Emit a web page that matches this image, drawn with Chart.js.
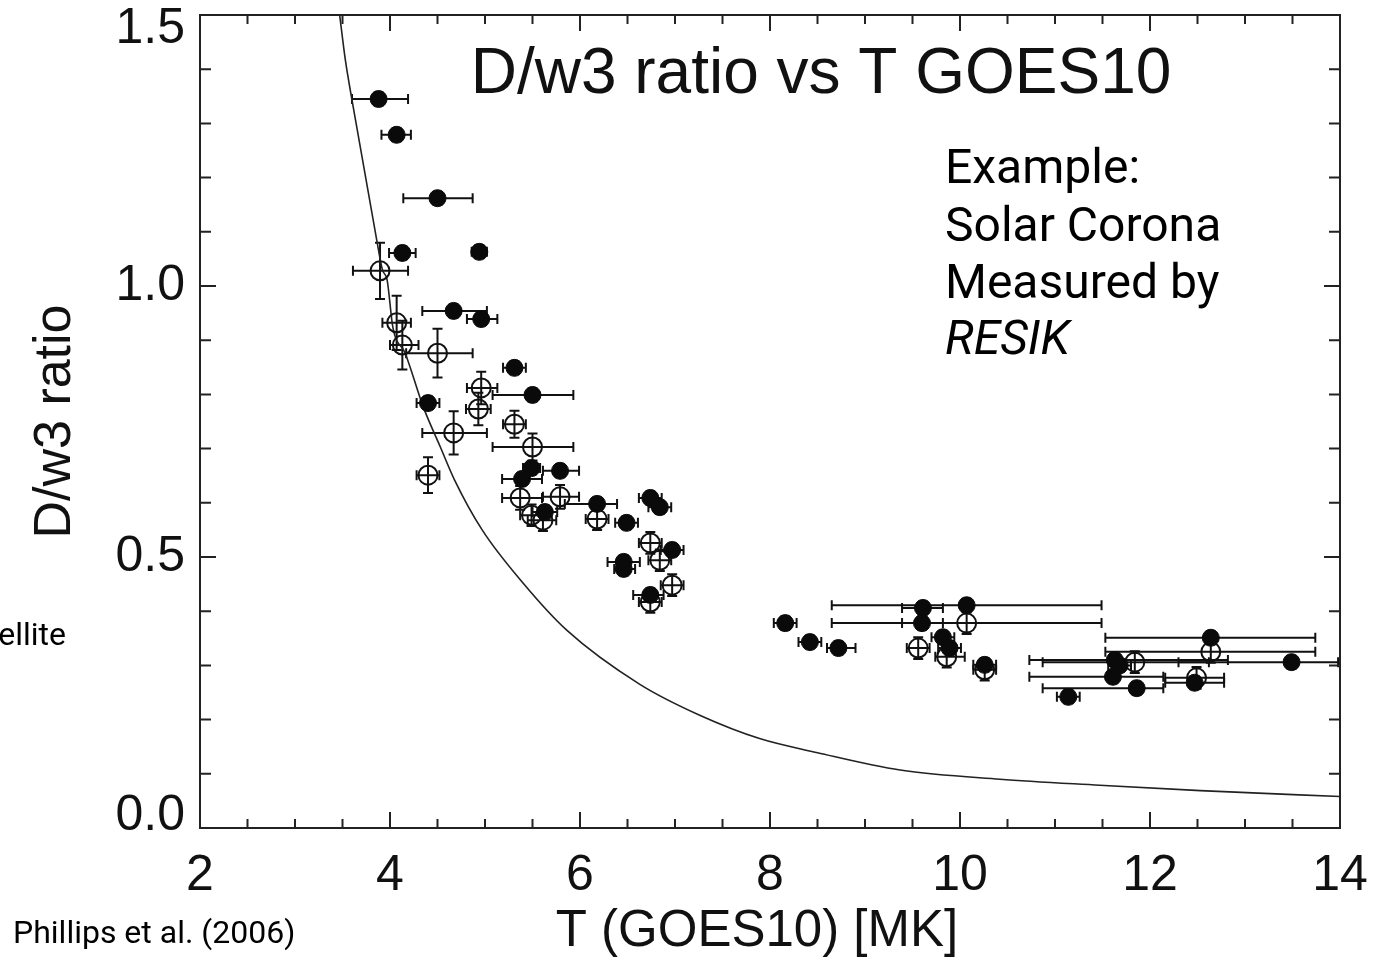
<!DOCTYPE html>
<html>
<head>
<meta charset="utf-8">
<script src="https://cdn.jsdelivr.net/npm/chart.js@4/dist/chart.umd.min.js"></script>
<style>
  body { margin: 0; background: #fff; }
  canvas { display: block; }
</style>
</head>
<body>
<canvas id="ratio-chart" width="1378" height="959"></canvas>
<script>
// theory curve
const curveT = [3.47, 3.53, 3.60, 3.86, 3.92, 3.97, 4.03, 4.16, 4.35, 4.53, 4.68, 4.97, 5.40, 5.86, 6.63, 7.26, 7.89, 8.50, 9.37, 10.42, 11.47, 12.53, 14.0];
const curveR = [1.50, 1.417, 1.343, 1.085, 1.03, 1.011, 0.924, 0.876, 0.777, 0.703, 0.642, 0.550, 0.452, 0.365, 0.265, 0.208, 0.165, 0.139, 0.107, 0.090, 0.079, 0.069, 0.058];

// filled circles
const closedT   = [3.88, 4.07, 4.50, 4.13, 4.94, 4.67, 4.96, 5.31, 5.50, 4.40, 5.49, 5.39, 5.79, 5.63, 6.18, 6.49, 6.74, 6.84, 6.97, 6.46, 6.46, 6.74, 8.16, 8.42, 8.72, 9.61, 10.07, 9.60, 9.82, 9.89, 10.26, 12.64, 13.49, 11.63, 11.68, 11.61, 11.86, 11.14, 12.47];
const closedR   = [1.345, 1.279, 1.162, 1.061, 1.063, 0.954, 0.939, 0.849, 0.799, 0.784, 0.664, 0.644, 0.659, 0.583, 0.598, 0.563, 0.609, 0.592, 0.513, 0.491, 0.478, 0.430, 0.378, 0.343, 0.332, 0.406, 0.411, 0.378, 0.352, 0.332, 0.301, 0.351, 0.306, 0.310, 0.300, 0.279, 0.258, 0.242, 0.268];
const closedTlo = [3.60, 3.91, 4.14, 3.99, 4.86, 4.34, 4.81, 5.19, 5.08, 4.28, 5.40, 5.18, 5.61, 5.50, 5.84, 6.37, 6.62, 6.72, 6.85, 6.29, 6.36, 6.56, 8.04, 8.30, 8.60, 9.39, 8.65, 9.39, 9.70, 9.77, 10.14, 11.53, 12.30, 10.73, 11.56, 10.73, 10.87, 11.02, 12.16];
const closedThi = [4.19, 4.22, 4.87, 4.27, 5.02, 5.02, 5.13, 5.43, 5.93, 4.52, 5.58, 5.60, 5.99, 5.76, 6.39, 6.61, 6.86, 6.96, 7.09, 6.63, 6.58, 6.88, 8.28, 8.54, 8.90, 9.82, 11.49, 9.82, 9.94, 10.01, 10.38, 13.74, 13.98, 12.82, 11.80, 12.14, 12.14, 11.26, 12.78];
const closedRerr = [0.012, 0.012, 0.012, 0.012, 0.012, 0.012, 0.012, 0.012, 0.012, 0.012, 0.012, 0.012, 0.012, 0.012, 0.012, 0.012, 0.012, 0.012, 0.012, 0.012, 0.012, 0.012, 0.012, 0.012, 0.012, 0.012, 0.012, 0.012, 0.012, 0.012, 0.012, 0.012, 0.012, 0.012, 0.012, 0.012, 0.012, 0.012, 0.012];

// open circles
const openT   = [3.895, 4.07, 4.13, 4.50, 4.96, 4.93, 5.31, 4.67, 4.40, 5.50, 5.37, 5.79, 5.61, 5.49, 6.18, 6.74, 6.84, 6.97, 6.74, 10.07, 9.56, 9.86, 10.26, 12.64, 11.84, 12.49];
const openR   = [1.028, 0.932, 0.891, 0.876, 0.812, 0.773, 0.745, 0.729, 0.651, 0.703, 0.609, 0.611, 0.568, 0.577, 0.570, 0.526, 0.494, 0.448, 0.417, 0.378, 0.332, 0.316, 0.292, 0.325, 0.306, 0.277];
const openTlo = [3.61, 3.92, 4.00, 4.17, 4.81, 4.80, 5.19, 4.34, 4.28, 5.08, 5.18, 5.61, 5.45, 5.37, 6.06, 6.62, 6.72, 6.85, 6.62, 8.65, 9.44, 9.74, 10.14, 11.53, 10.87, 12.16];
const openThi = [4.19, 4.22, 4.30, 4.87, 5.13, 5.06, 5.43, 5.02, 4.52, 5.93, 5.60, 5.99, 5.75, 5.61, 6.30, 6.86, 6.96, 7.09, 6.86, 11.49, 9.68, 10.05, 10.38, 13.74, 12.62, 12.78];
const openRerr = [0.052, 0.05, 0.045, 0.045, 0.03, 0.03, 0.025, 0.04, 0.033, 0.025, 0.022, 0.022, 0.02, 0.02, 0.02, 0.02, 0.02, 0.02, 0.02, 0.02, 0.02, 0.02, 0.02, 0.02, 0.02, 0.02];

const xTicksMajor = [2, 4, 6, 8, 10, 12, 14];
const yTicksMajor = [0.0, 0.5, 1.0, 1.5];

const toPoints = (xs, ys) => xs.map((x, i) => ({ x: x, y: ys[i] }));

const AXIS_FONT = '"Liberation Sans", Arial, Helvetica, sans-serif';
const NOTE_FONT = 'Roboto, "Noto Sans", sans-serif';

// error bars, drawn under the markers
const errorBars = {
    id: 'errorBars',
    beforeDatasetsDraw(chart) {
        const { ctx, chartArea, scales } = chart;
        ctx.save();
        ctx.beginPath();
        ctx.rect(chartArea.left, chartArea.top, chartArea.right - chartArea.left, chartArea.bottom - chartArea.top);
        ctx.clip();
        ctx.strokeStyle = '#111';
        ctx.lineWidth = 2;
        chart.data.datasets.forEach(ds => {
            if (!ds.tLo) return;
            ds.data.forEach((p, i) => {
                const px = scales.x.getPixelForValue(p.x);
                const py = scales.y.getPixelForValue(p.y);
                const x0 = scales.x.getPixelForValue(ds.tLo[i]);
                const x1 = scales.x.getPixelForValue(ds.tHi[i]);
                const y0 = scales.y.getPixelForValue(p.y - ds.rErr[i]);
                const y1 = scales.y.getPixelForValue(p.y + ds.rErr[i]);
                ctx.beginPath();
                ctx.moveTo(x0, py); ctx.lineTo(x1, py);
                ctx.moveTo(x0, py - 5); ctx.lineTo(x0, py + 5);
                ctx.moveTo(x1, py - 5); ctx.lineTo(x1, py + 5);
                ctx.moveTo(px, y0); ctx.lineTo(px, y1);
                ctx.moveTo(px - 5, y0); ctx.lineTo(px + 5, y0);
                ctx.moveTo(px - 5, y1); ctx.lineTo(px + 5, y1);
                ctx.stroke();
            });
        });
        ctx.restore();
    }
};

// box, inward ticks, y labels and the texts
const frameAndText = {
    id: 'frameAndText',
    afterDraw(chart) {
        const { ctx, chartArea: a, scales } = chart;
        ctx.save();
        ctx.strokeStyle = '#222';
        ctx.lineWidth = 2;
        ctx.strokeRect(a.left, a.top, a.right - a.left, a.bottom - a.top);

        ctx.beginPath();
        for (let v = 2; v <= 14.001; v += 0.5) {
            const x = scales.x.getPixelForValue(v);
            const len = Math.abs(v % 2) < 0.01 ? 16 : 9;
            ctx.moveTo(x, a.bottom); ctx.lineTo(x, a.bottom - len);
            ctx.moveTo(x, a.top); ctx.lineTo(x, a.top + len);
        }
        for (let k = 0; k <= 15; k++) {
            const y = scales.y.getPixelForValue(k / 10);
            const len = k % 5 === 0 ? 16 : 11;
            ctx.moveTo(a.left, y); ctx.lineTo(a.left + len, y);
            ctx.moveTo(a.right, y); ctx.lineTo(a.right - len, y);
        }
        ctx.stroke();

        // y tick labels, end ones pulled inside the box like the original
        ctx.fillStyle = '#111';
        ctx.font = '50px ' + AXIS_FONT;
        ctx.textAlign = 'right';
        ctx.textBaseline = 'middle';
        yTicksMajor.forEach(v => {
            let y = scales.y.getPixelForValue(v);
            y = Math.min(Math.max(y, a.top + 14), a.bottom - 12);
            ctx.fillText(v.toFixed(1), a.left - 15, y);
        });

        ctx.textBaseline = 'alphabetic';
        ctx.textAlign = 'center';
        ctx.font = '51px ' + AXIS_FONT;
        ctx.fillText('T (GOES10) [MK]', 757, 946);
        ctx.font = '64px ' + AXIS_FONT;
        ctx.fillText('D/w3 ratio vs T GOES10', 821, 93);

        ctx.fillStyle = '#000';
        ctx.textAlign = 'left';
        ctx.font = '48px ' + NOTE_FONT;
        ctx.fillText('Example:', 945, 183);
        ctx.fillText('Solar Corona', 945, 241);
        ctx.fillText('Measured by', 945, 298);
        ctx.font = 'italic 48px ' + NOTE_FONT;
        ctx.fillText('RESIK', 945, 354);

        ctx.font = '32px ' + NOTE_FONT;
        ctx.fillText('Phillips et al. (2006)', 13, 943);
        ctx.textAlign = 'right';
        ctx.fillText('ellite', 66, 645);
        ctx.restore();
    }
};

const ctx = document.getElementById('ratio-chart').getContext('2d');

const ratioChart = new Chart(ctx, {
    type: 'scatter',
    data: {
        datasets: [
            {
                label: 'theory',
                data: toPoints(curveT, curveR),
                showLine: true,
                borderColor: '#222',
                borderWidth: 1.6,
                pointRadius: 0,
                cubicInterpolationMode: 'monotone',
                order: 3
            },
            {
                label: 'open',
                data: toPoints(openT, openR),
                tLo: openTlo, tHi: openThi, rErr: openRerr,
                pointStyle: 'circle',
                pointRadius: 9.5,
                backgroundColor: 'rgba(255,255,255,0)',
                borderColor: '#111',
                pointBorderWidth: 2,
                order: 2
            },
            {
                label: 'filled',
                data: toPoints(closedT, closedR),
                tLo: closedTlo, tHi: closedThi, rErr: closedRerr,
                pointStyle: 'circle',
                pointRadius: 8.5,
                backgroundColor: '#0a0a0a',
                borderColor: '#0a0a0a',
                pointBorderWidth: 1,
                order: 1
            }
        ]
    },
    options: {
        responsive: false,
        animation: false,
        devicePixelRatio: 1,
        layout: { padding: { top: 15, right: 38, left: 0, bottom: 0 } },
        scales: {
            x: {
                type: 'linear',
                min: 2,
                max: 14,
                afterFit: s => { s.height = 131; s.paddingLeft = 0; s.paddingRight = 0; },
                afterBuildTicks: s => { s.ticks = xTicksMajor.map(v => ({ value: v })); },
                grid: { display: false, drawTicks: false },
                border: { display: false },
                ticks: {
                    color: '#111',
                    padding: 18,
                    maxRotation: 0,
                    font: { family: AXIS_FONT, size: 50 }
                },
                title: { display: false }
            },
            y: {
                type: 'linear',
                min: 0,
                max: 1.5,
                afterFit: s => { s.width = 200; s.paddingTop = 0; s.paddingBottom = 0; },
                afterBuildTicks: s => { s.ticks = yTicksMajor.map(v => ({ value: v })); },
                grid: { display: false, drawTicks: false },
                border: { display: false },
                ticks: { display: false },
                title: {
                    display: true,
                    text: 'D/w3 ratio',
                    color: '#111',
                    padding: { top: 24, bottom: 0 },
                    font: { family: AXIS_FONT, size: 52 }
                }
            }
        },
        plugins: {
            legend: { display: false },
            tooltip: { enabled: false }
        }
    },
    plugins: [errorBars, frameAndText]
});
</script>
</body>
</html>
